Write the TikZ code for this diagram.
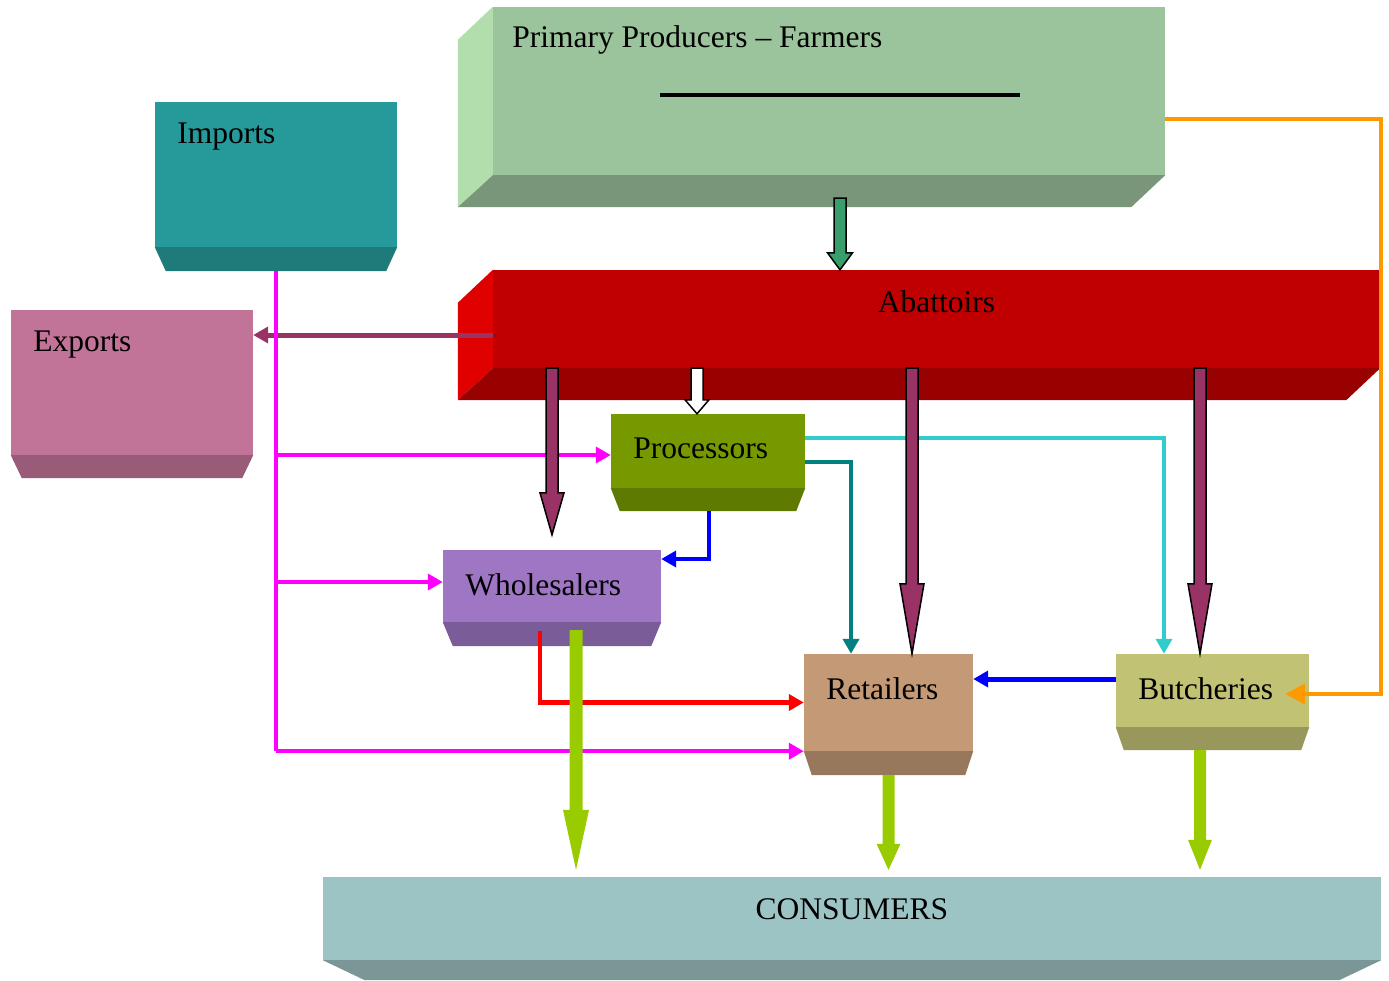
\documentclass[tikz,border=0pt]{standalone}
\usepackage{fontspec}
\setmainfont{Liberation Serif}
\usetikzlibrary{arrows.meta,calc}

\definecolor{farmers}{RGB}{156,196,156}
\definecolor{farmersside}{RGB}{178,222,174}
\definecolor{farmerslow}{RGB}{122,150,122}
\definecolor{abattoirs}{RGB}{192,0,0}
\definecolor{abattoirsside}{RGB}{224,0,0}
\definecolor{abattoirslow}{RGB}{153,0,0}
\definecolor{imports}{RGB}{38,154,154}
\definecolor{importslow}{RGB}{31,122,122}
\definecolor{exports}{RGB}{194,116,152}
\definecolor{exportslow}{RGB}{152,91,120}
\definecolor{processors}{RGB}{119,153,0}
\definecolor{processorslow}{RGB}{95,122,0}
\definecolor{wholesalers}{RGB}{158,118,196}
\definecolor{wholesalerslow}{RGB}{122,92,152}
\definecolor{retailers}{RGB}{196,154,118}
\definecolor{retailerslow}{RGB}{152,120,92}
\definecolor{butcheries}{RGB}{194,194,116}
\definecolor{butcherieslow}{RGB}{152,152,92}
\definecolor{consumers}{RGB}{156,196,196}
\definecolor{consumerslow}{RGB}{122,150,150}
\definecolor{meat}{RGB}{153,51,102}
\definecolor{livestock}{RGB}{56,158,108}
\definecolor{retail}{RGB}{153,204,0}
\definecolor{trade}{RGB}{255,0,255}
\definecolor{sky}{RGB}{51,204,204}
\definecolor{deepteal}{RGB}{0,128,128}
\definecolor{amber}{RGB}{255,153,0}

\newcommand\boxfont{\fontsize{31.5}{36}\selectfont}

% underside of a box: node, colour, inset, depth
\newcommand\underside[4]{%
  \fill[#2] (#1.south west) -- (#1.south east) -- ($(#1.south east)+(-#3,#4)$)
    -- ($(#1.south west)+(#3,#4)$) -- cycle;}
% long slab: node, side colour, bottom colour
\newcommand\slab[3]{%
  \fill[#2] (#1.north west) -- (#1.south west) -- ++(-35,32) -- ($(#1.north west)+(-35,33)$) -- cycle;
  \fill[#3] (#1.south west) -- (#1.south east) -- ($(#1.south east)+(-34,32)$)
    -- ($(#1.south west)+(-35,32)$) -- cycle;}
% downward block arrow: [style] from, to, half shaft, half head, head length
\newcommand\blockarrow[6][]{%
  \path[#1] let \p1=(#2), \p2=(#3) in
    (\x1-#4pt,\y1) -- (\x1+#4pt,\y1) -- (\x1+#4pt,\y2+#6pt) -- (\x1+#5pt,\y2+#6pt)
    -- (\x1,\y2) -- (\x1-#5pt,\y2+#6pt) -- (\x1-#4pt,\y2+#6pt) -- cycle;}

\tikzset{
  box/.style={fill=#1, inner sep=0pt},
  tag/.style={label={[anchor=west,xshift=19pt,yshift=-35pt,font=\boxfont]north west:#1}},
  midtag/.style={label={[anchor=center,yshift=-32pt,font=\boxfont]north:#1}},
  flow/.style={line width=4.5pt, draw=#1, -{Triangle[width=16pt,length=15pt]}},
  outlined/.style={fill=#1, draw=black, line width=1.5pt, line join=miter},
  plain/.style={fill=#1},
}

\begin{document}
\begin{tikzpicture}[x=1pt,y=-1pt]
  \useasboundingbox (0,0) rectangle (1389,980);

  \node[box=farmers, minimum width=672, minimum height=168,
        label={[anchor=west,xshift=16pt,yshift=-33pt,font=\boxfont]north west:Primary Producers -- Farmers}] (farmers) at (829,91) {};
  \slab{farmers}{farmersside}{farmerslow}
  \draw[line width=4pt] ($(farmers.north west)+(167,88)$) -- ++(360,0);

  \node[box=abattoirs, minimum width=887, minimum height=98, midtag=Abattoirs] (abattoirs) at (936.5,319) {};
  \slab{abattoirs}{abattoirsside}{abattoirslow}

  \node[box=imports, minimum width=242, minimum height=145, tag=Imports] (imports) at (276,174.5) {};
  \underside{imports}{importslow}{11}{24}
  \node[box=exports, minimum width=242, minimum height=145, tag=Exports] (exports) at (132,382.5) {};
  \underside{exports}{exportslow}{11}{23}
  \node[box=processors, minimum width=194, minimum height=74, tag=Processors] (processors) at (708,451) {};
  \underside{processors}{processorslow}{9}{23}
  \node[box=wholesalers, minimum width=218, minimum height=72, tag=Wholesalers] (wholesalers) at (552,586) {};
  \underside{wholesalers}{wholesalerslow}{10}{24}
  \node[box=retailers, minimum width=169, minimum height=97, tag=Retailers] (retailers) at (888.5,702.5) {};
  \underside{retailers}{retailerslow}{8}{24}
  \node[box=butcheries, minimum width=193, minimum height=73, tag=Butcheries] (butcheries) at (1212.5,690.5) {};
  \underside{butcheries}{butcherieslow}{8}{23}
  \node[box=consumers, minimum width=1058, minimum height=83, midtag=CONSUMERS] (consumers) at (852,918.5) {};
  \underside{consumers}{consumerslow}{42}{20}

  % thin flows
  \coordinate (to exports) at ($(abattoirs.west)+(0,16)$);
  \draw[flow=meat, line width=5pt] (to exports) -- (to exports -| exports.east);

  \coordinate (imp proc) at ($(processors.west)+(0,4)$);
  \coordinate (imp whole) at ($(wholesalers.west)+(0,-4)$);
  \draw[line width=4.5pt, trade] ($(imports.south)+(0,24)$) -- (imports.south |- retailers.south west);
  \draw[flow=trade] (imports.south |- imp proc) -- (imp proc);
  \draw[flow=trade] (imports.south |- imp whole) -- (imp whole);
  \draw[flow=trade] (imports.south |- retailers.south west) -- (retailers.south west);

  \draw[flow=blue] ($(processors.south)+(1,23)$) |- ($(wholesalers.east)+(0,-27)$);
  \draw[flow=deepteal] ($(processors.east)+(0,11)$) -| ($(retailers.north)+(-37.5,0)$);
  \draw[flow=sky] ($(processors.east)+(0,-13)$) -| ($(butcheries.north)+(-48.5,0)$);
  \draw[flow=red] ($(wholesalers.south)+(-12,9)$) |- (retailers.west);

  \coordinate (butch out) at ($(butcheries.west)+(0,-11.5)$);
  \draw[flow=blue, line width=5pt] (butch out) -- (butch out -| retailers.east);

  \coordinate (farm out) at ($(farmers.east)+(0,28)$);
  \coordinate (farm in) at ($(butcheries.east)+(-24,3.5)$);
  \draw[flow=amber, -{Triangle[width=20pt,length=20pt]}] (farm out) -- (farm out -| consumers.east) |- (farm in);

  % block arrows
  \blockarrow[outlined=livestock]{$(farmers.south)+(11,23)$}{abattoirs.north}{6}{12.5}{17}
  \blockarrow[outlined=meat]{abattoirs.south -| wholesalers.north}{$(wholesalers.north)+(0,-15)$}{6}{12}{42}
  \blockarrow[outlined=white]{$(abattoirs.south -| processors.north)+(-11,0)$}{processors.north}{6}{12}{14}
  \blockarrow[outlined=meat]{$(abattoirs.south -| retailers.north)+(23.5,0)$}{retailers.north}{6}{12}{70}
  \blockarrow[outlined=meat]{$(abattoirs.south -| butcheries.north)+(-12.5,0)$}{butcheries.north}{6}{12}{70}
  \blockarrow[plain=retail]{$(wholesalers.south)+(24,8)$}{$(consumers.north)+(0,-7)$}{6.5}{13}{60}
  \blockarrow[plain=retail]{$(retailers.south)+(0,24)$}{$(consumers.north)+(0,-7)$}{6}{12}{26}
  \blockarrow[plain=retail]{$(butcheries.south)+(-12.5,23)$}{$(consumers.north)+(0,-7)$}{6}{12}{30}
\end{tikzpicture}
\end{document}
